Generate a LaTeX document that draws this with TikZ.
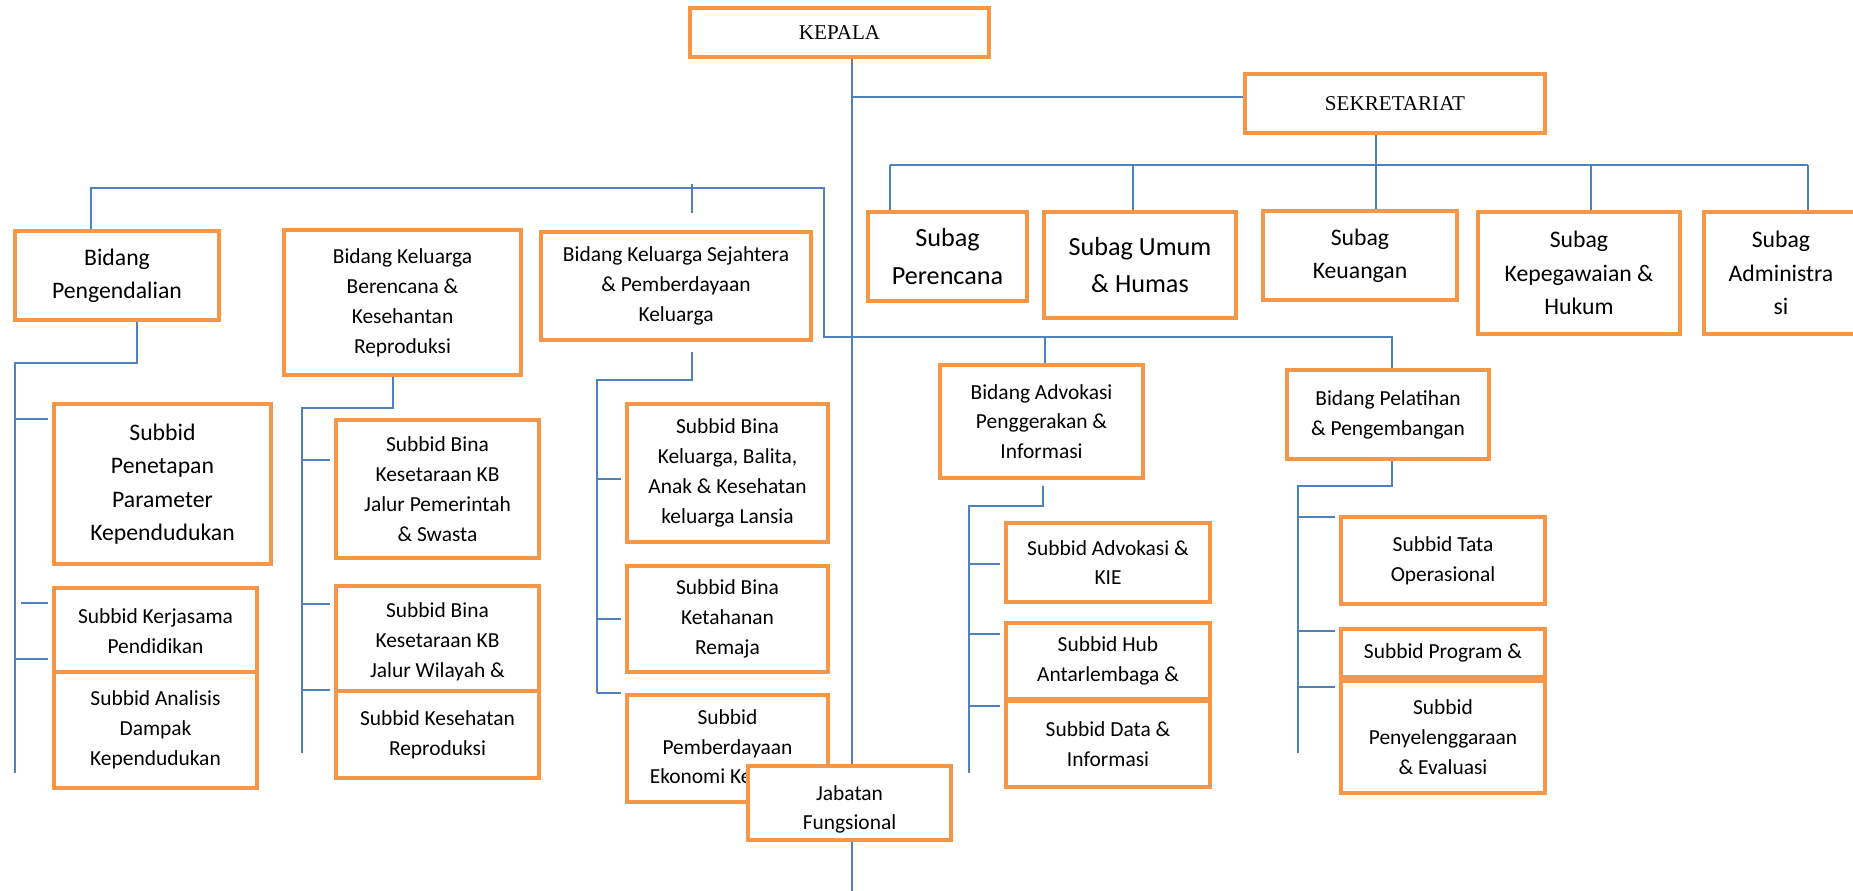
\documentclass[tikz,border=0pt]{standalone}
\usepackage{fontspec}
\setmainfont{Carlito}
\newfontfamily\tnr{Liberation Serif}
\usetikzlibrary{backgrounds}
\definecolor{orx}{RGB}{247,150,70}
\definecolor{blx}{RGB}{79,129,189}
\tikzset{
  box/.style={draw=orx, line width=2.6pt, fill=white, align=center, inner sep=0pt},
  link/.style={blx, line width=0.9pt},
  stub/.style={link, shorten >=0.08cm},
  smalltxt/.style={font=\fontsize{12.2}{17}\selectfont},
  midtxt/.style={font=\fontsize{13.5}{19}\selectfont},
  bigtxt/.style={font=\fontsize{14.9}{21.3}\selectfont},
  serif/.style={font=\tnr\fontsize{12}{14}\selectfont},
}

\begin{document}
\begin{tikzpicture}[x=0.02cm, y=-0.02cm]
\useasboundingbox (0,0) rectangle (1853,890);
\clip (0,0) rectangle (1853,890);

% top
\node[box, serif, minimum width=5.98cm, minimum height=0.98cm] (kepala) at (839.5,32.5) {KEPALA};
\node[box, serif, minimum width=6cm, minimum height=1.18cm] (sek) at (1395,103.5) {SEKRETARIAT};

% subag
\node[box, bigtxt, minimum width=3.18cm, minimum height=1.78cm] (sPer) at (947.5,256.5) {Subag\\Perencana};
\node[box, bigtxt, minimum width=3.84cm, minimum height=2.12cm] (sUmum) at (1140,265) {Subag Umum\\\& Humas};
\node[box, midtxt, minimum width=3.88cm, minimum height=1.78cm] (sKeu) at (1360,255.5) {Subag\\Keuangan};
\node[box, midtxt, minimum width=4.04cm, minimum height=2.44cm] (sKep) at (1579,273) {Subag\\Kepegawaian \&\\Hukum};
\node[box, midtxt, minimum width=3.08cm, minimum height=2.44cm] (sAdm) at (1781,273) {Subag\\Administra\\si};

% bidang
\node[box, midtxt, minimum width=4.08cm, minimum height=1.78cm] (bPeng) at (117,275.5) {Bidang\\Pengendalian};
\node[box, smalltxt, minimum width=4.74cm, minimum height=2.9cm] (bKB) at (402.5,302.5) {Bidang Keluarga\\Berencana \&\\Kesehantan\\Reproduksi};
\node[box, smalltxt, minimum width=5.4cm, minimum height=2.16cm] (bKS) at (676,286) {Bidang Keluarga Sejahtera\\\& Pemberdayaan\\Keluarga};
\node[box, smalltxt, minimum width=4.06cm, minimum height=2.26cm] (bAdv) at (1041.5,421.5) {Bidang Advokasi\\Penggerakan \&\\Informasi};
\node[box, smalltxt, minimum width=4.04cm, minimum height=1.78cm] (bPel) at (1388,414.5) {Bidang Pelatihan\\\& Pengembangan};

% subbid
\node[box, midtxt, minimum width=4.34cm, minimum height=3.2cm] (pPen) at (162.5,484) {Subbid\\Penetapan\\Parameter\\Kependudukan};
\node[box, smalltxt, minimum width=4.06cm, minimum height=1.72cm] (pKer) at (155.5,631) {Subbid Kerjasama\\Pendidikan};
\node[box, smalltxt, minimum width=4.06cm, minimum height=2.32cm] (pAna) at (155.5,730) {Subbid Analisis\\Dampak\\Kependudukan};

\node[box, smalltxt, minimum width=4.06cm, minimum height=2.76cm] (kbPem) at (437.5,489) {Subbid Bina\\Kesetaraan KB\\Jalur Pemerintah\\\& Swasta};
\node[box, smalltxt, minimum width=4.06cm, minimum height=2.24cm] (kbWil) at (437.5,642) {Subbid Bina\\Kesetaraan KB\\Jalur Wilayah \&};
\node[box, smalltxt, minimum width=4.06cm, minimum height=1.74cm] (kbRep) at (437.5,734.5) {Subbid Kesehatan\\Reproduksi};

\node[box, smalltxt, minimum width=4.02cm, minimum height=2.76cm] (ksBal) at (727.5,473) {Subbid Bina\\Keluarga, Balita,\\Anak \& Kesehatan\\keluarga Lansia};
\node[box, smalltxt, minimum width=4.02cm, minimum height=2.12cm] (ksRem) at (727.5,619) {Subbid Bina\\Ketahanan\\Remaja};
\node[box, smalltxt, minimum width=4.02cm, minimum height=2.14cm] (ksEko) at (727.5,748.5) {Subbid\\Pemberdayaan\\Ekonomi Keluarga};
\node[box, smalltxt, minimum width=4.06cm, minimum height=1.48cm] (jab) at (849.5,803)
  {\raisebox{-3.4pt}[\height][\depth]{\begin{tabular}{@{}c@{}}Jabatan\\Fungsional\end{tabular}}};

\node[box, smalltxt, minimum width=4.08cm, minimum height=1.58cm] (adKIE) at (1108,562.5) {Subbid Advokasi \&\\KIE};
\node[box, smalltxt, minimum width=4.08cm, minimum height=1.52cm] (adHub) at (1108,661) {Subbid Hub\\Antarlembaga \&};
\node[box, smalltxt, minimum width=4.08cm, minimum height=1.72cm] (adData) at (1108,744) {Subbid Data \&\\Informasi};

\node[box, smalltxt, minimum width=4.08cm, minimum height=1.74cm] (plTata) at (1443,560.5) {Subbid Tata\\Operasional};
\node[box, smalltxt, minimum width=4.08cm, minimum height=0.96cm] (plProg) at (1443,653) {Subbid Program \&};
\node[box, smalltxt, minimum width=4.08cm, minimum height=2.24cm] (plEval) at (1443,737) {Subbid\\Penyelenggaraan\\\& Evaluasi};

\begin{scope}[on background layer]
  \coordinate (kS) at (852,97);
  \coordinate (kE) at (852,892);
  \draw[link] (kepala.south -| kS) -- (kE);
  \draw[link] (kS) -- (kS -| sek.west);

  \coordinate (sK) at (1376,165);
  \draw[link] (sek.south -| sK) -- (sK |- sKeu.north);
  \foreach \x/\n in {890/sPer, 1133/sUmum, 1591/sKep, 1808/sAdm}
    \draw[link] (\x,165) coordinate (d\n) -- (d\n |- \n.north);
  \draw[link] (dsPer) -- (dsAdm);

  \coordinate (bA) at (91,188);
  \coordinate (bB) at (824,188);
  \coordinate (bC) at (824,337);
  \coordinate (bD) at (1392,337);
  \coordinate (bE) at (1045,337);
  \coordinate (bT) at (692,184);
  \draw[link] (bPeng.north -| bA) -- (bA) -- (bB) -- (bC) -- (bD) -- (bD |- bPel.north);
  \draw[link] (bE) -- (bE |- bAdv.north);
  \draw[link] (bT) -- ++(0,29);

  \draw[link] (bPeng.south -| 137,0) -- (137,363) -- (15,363) -- (15,773);
  \foreach \y/\x/\n in {419/15/pPen, 603/21/pKer, 659/15/pKer}
    \draw[stub] (\x,\y) -- (\n.west |- 0,\y);

  \draw[link] (bKB.south -| 393,0) -- (393,408) -- (302,408) -- (302,753);
  \foreach \y/\n in {460/kbPem, 604/kbWil, 690/kbRep}
    \draw[stub] (302,\y) -- (\n.west |- 0,\y);

  \coordinate (ksTop) at (692,352);
  \draw[link] (ksTop) -- (692,380) -- (597,380) -- (597,693);
  \foreach \y/\n in {479/ksBal, 619/ksRem, 693/ksEko}
    \draw[stub] (597,\y) -- (\n.west |- 0,\y);

  \coordinate (adTop) at (1043,486);
  \draw[link] (adTop) -- (1043,506) -- (969,506) -- (969,773);
  \foreach \y/\n in {564/adKIE, 634/adHub, 706/adData}
    \draw[stub] (969,\y) -- (\n.west |- 0,\y);

  \draw[link] (bPel.south -| 1392,0) -- (1392,486) -- (1298,486) -- (1298,753);
  \foreach \y/\n in {517/plTata, 631/plProg, 687/plEval}
    \draw[stub] (1298,\y) -- (\n.west |- 0,\y);
\end{scope}
\end{tikzpicture}
\end{document}
